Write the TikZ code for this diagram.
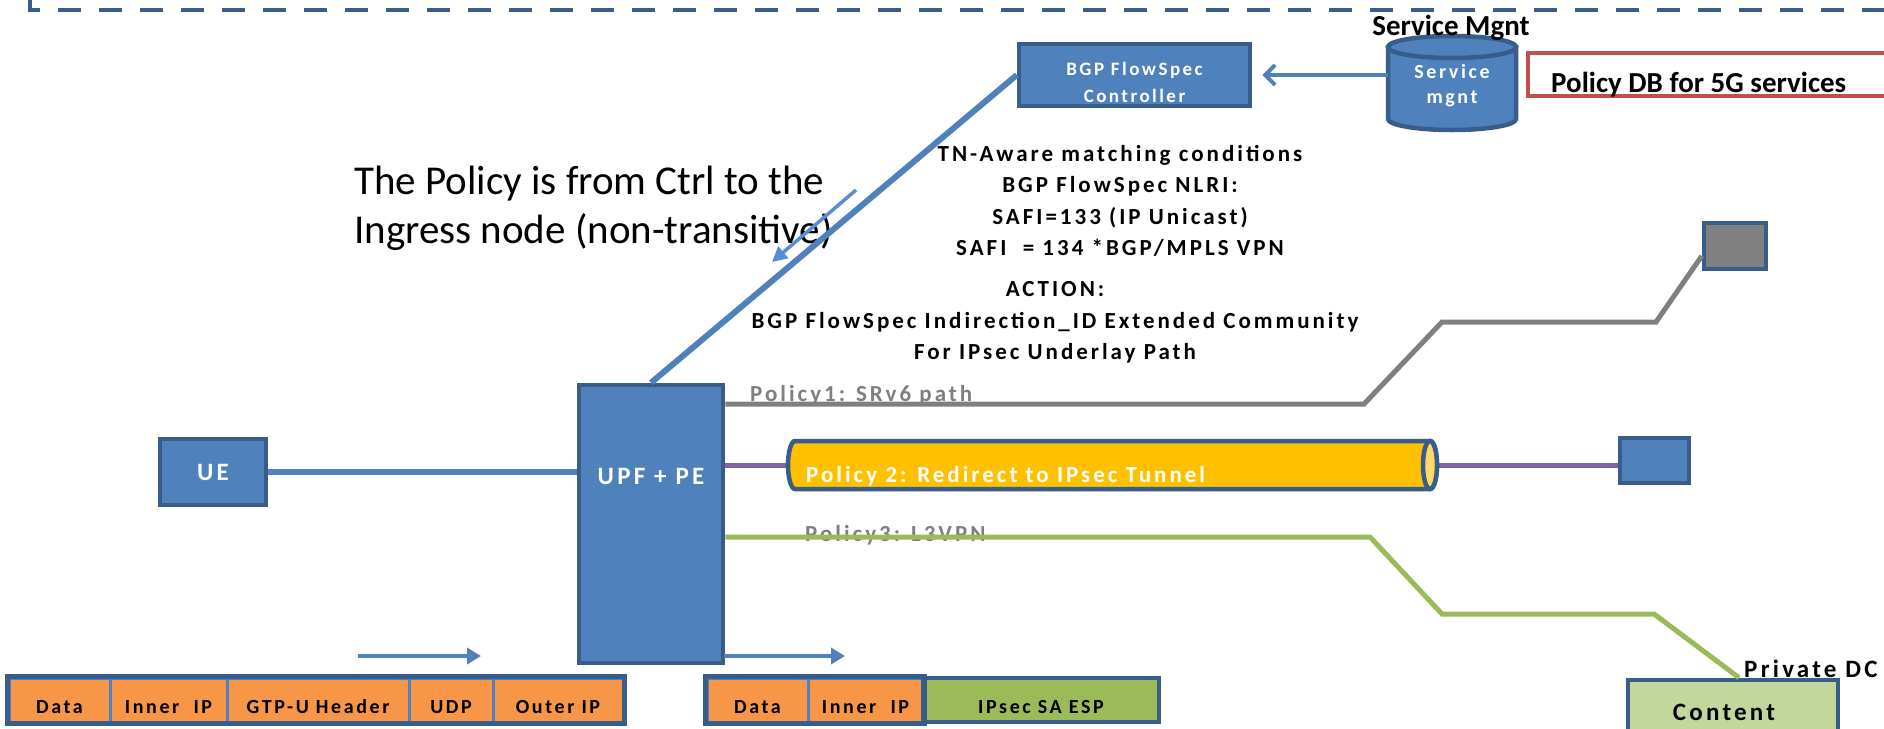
\documentclass[tikz,border=0pt]{standalone}
\usepackage{fontspec}
\setmainfont{Carlito}
\newfontfamily\spacedfont[LetterSpace=13]{Carlito}
\usetikzlibrary{arrows.meta}
\definecolor{bfill}{HTML}{4F81BD}
\definecolor{bdark}{HTML}{385D8A}
\definecolor{larrow}{HTML}{558ED5}
\definecolor{gline}{HTML}{7F7F7F}
\definecolor{gboxc}{HTML}{808080}
\definecolor{purp}{HTML}{8064A2}
\definecolor{grn}{HTML}{9BBB59}
\definecolor{org}{HTML}{F79646}
\definecolor{yel}{HTML}{FFC000}
\definecolor{yelcap}{HTML}{FFD966}
\definecolor{contc}{HTML}{C3D69B}
\definecolor{redc}{HTML}{C0504D}
\newcommand\setfs[1]{\fontsize{#1}{#1}\selectfont}
\begin{document}
\begin{tikzpicture}[x=1pt,y=-1pt,
  bluebox/.style={draw=bdark,fill=bfill,line width=4.5,inner sep=0},
  wtext/.style={text=white,font=\spacedfont\bfseries\setfs{#1},inner sep=0},
  btext/.style={text=black,font=\spacedfont\bfseries\setfs{#1},inner sep=0},
  gtext/.style={text=gline,font=\spacedfont\bfseries\setfs{#1},inner sep=0},
  cell/.style={draw=bfill,line width=3,minimum height=44,inner sep=0,text height=26pt,text depth=0pt,font=\spacedfont\bfseries\setfs{20}},
  outer/.style={draw=bdark,line width=4.5},
  pktarrow/.style={bfill,line width=4,-{Triangle[length=14pt,width=16pt]}}
]
\useasboundingbox (0,0) rectangle (1884,728);
\clip (0,0) rectangle (1884,728);

% dashed frame
\draw[bdark,line width=4,dash pattern=on 23pt off 18pt] (30,-3) -- (30,10) -- (1900,10);

% controller
\node[bluebox,minimum width=231,minimum height=62] (ctrl) at (1134.5,75) {};
\node[wtext=19,anchor=base] (ctrlt1) at (1134.5,75) {BGP FlowSpec};
\node[wtext=19,anchor=base] (ctrlt2) at (1134.5,102) {Controller};

% service mgnt cylinder
\node[inner sep=0,minimum width=128,minimum height=94] (svc) at (1452,83) {};
\path[fill=bfill,draw=bdark,line width=4.5] (1388,47) -- (1388,119)
  arc[start angle=180,end angle=0,x radius=64,y radius=11] -- (1516,47) -- cycle;
\draw[fill=bfill,draw=bdark,line width=4.5] (1452,47) ellipse[x radius=64,y radius=11];
\node[wtext=20,anchor=base] (svct1) at (1452,78) {Service};
\node[wtext=20,anchor=base] (svct2) at (1452,103) {mgnt};
\node[font=\bfseries\setfs{29},anchor=base,inner sep=0] (svcl) at (1451,35) {Service Mgnt};

% policy DB
\node[draw=redc,line width=4,minimum width=372,minimum height=43,inner sep=0] (pdb) at (1714,74.5) {};
\node[font=\bfseries\setfs{29},anchor=base west,inner sep=0] (pdbt) at (1551,92) {Policy DB for 5G services};

\draw[bfill,line width=4,-{Straight Barb[length=10pt,width=20pt]}] (svc.west |- ctrl.east) -- ([xshift=10]ctrl.east);

% policy note
\node[font=\setfs{41},anchor=base west,inner sep=0] (pol1) at (354,194) {The Policy is from Ctrl to the};
\node[font=\setfs{41},anchor=base west,inner sep=0] (pol2) at (354,243) {Ingress node (non-transitive)};

% UE and UPF
\node[bluebox,minimum width=106,minimum height=66,text=white,font=\spacedfont\bfseries\setfs{25}] (ue) at (213,472) {UE};
\node[bluebox,minimum width=144,minimum height=278] (upf) at (651,524) {};
\node[wtext=25] (upft) at (651,476) {UPF + PE};
\draw[bfill,line width=5.5] (ue.east) -- (ue.east -| upf.west);
\draw[bfill,line width=6] (upf.north) -- (ctrl.west);

\coordinate (sa1) at (856,190);
\coordinate (sa2) at (772,262);
\draw[larrow,line width=3.5,-{Triangle[length=15pt,width=15pt]}] (sa1) -- (sa2);

% TN-aware text
\node[btext=23,anchor=base] (tn1) at (1120,161.5) {TN-Aware matching conditions};
\node[btext=23,anchor=base] (tn2) at (1120,192.5) {BGP FlowSpec NLRI:};
\node[btext=23,anchor=base] (tn3) at (1120,224.5) {SAFI=133 (IP Unicast)};
\node[btext=23,anchor=base] (tn4) at (1120,255.5) {SAFI~~= 134 *BGP/MPLS VPN};
\node[btext=23,anchor=base] (tn5) at (1055,296.5) {ACTION:};
\node[btext=23,anchor=base] (tn6) at (1055,328.5) {BGP FlowSpec Indirection\_ID Extended Community};
\node[btext=23,anchor=base] (tn7) at (1055,359.5) {For IPsec Underlay Path};

% policy 1 (grey)
\node[gtext=23,anchor=base west] (p1) at (750,401) {Policy1: SRv6 path};
\node[draw=bdark,fill=gboxc,line width=4.5,minimum width=62,minimum height=46,inner sep=0] (gbox) at (1735,246) {};
\coordinate (g0) at (0,404);
\draw[gline,line width=5] (upf.east |- g0) -- (1364,404) -- (1442,322) -- (1656,322) -- ([yshift=-10]gbox.west);

% policy 2 (tunnel)
\node[inner sep=0,minimum width=649,minimum height=48] (tun) at (1112.5,465) {};
\node[bluebox,minimum width=69,minimum height=45] (bbox) at (1654.5,460.5) {};
\draw[purp,line width=5] (upf.east |- tun.west) -- (tun.west);
\draw[purp,line width=5] (tun.east) -- (tun.east -| bbox.west);
\path[fill=yel,draw=bdark,line width=4.5] (1430,441) -- (795,441)
  arc[start angle=270,end angle=90,x radius=7,y radius=24] -- (1430,489)
  arc[start angle=90,end angle=-90,x radius=7,y radius=24] -- cycle;
\draw[fill=yelcap,draw=bdark,line width=4.5] (1430,465) ellipse[x radius=7,y radius=24];
\node[wtext=23,anchor=base west] (p2) at (806,482) {Policy 2: Redirect to IPsec Tunnel};

% policy 3 (green)
\node[gtext=23,anchor=base west] (p3) at (805,541) {Policy3: L3VPN};
\node[draw=bdark,fill=contc,line width=4.5,minimum width=210,minimum height=68,inner sep=0] (content) at (1733,714) {};
\node[btext=25,anchor=base] (contentt) at (1724,720) {Content};
\node[btext=25,anchor=base west] (pdc) at (1744,677) {Private DC};
\coordinate (gr0) at (0,537);
\draw[grn,line width=5] (upf.east |- gr0) -- (1370,537) -- (1442,614) -- (1654,614) -- ([xshift=6]content.north);

% packets
\node[cell,fill=org,minimum width=101] (c1) at (59.5,700) {Data};
\node[cell,fill=org,minimum width=117] (c2) at (168.5,700) {Inner~~IP};
\node[cell,fill=org,minimum width=182] (c3) at (318,700) {GTP-U Header};
\node[cell,fill=org,minimum width=84] (c4) at (451,700) {UDP};
\node[cell,fill=org,minimum width=130] (c5) at (558,700) {Outer IP};
\draw[outer] (c1.north west) rectangle (c5.south east);

\node[cell,fill=org,minimum width=101] (d1) at (757.5,700) {Data};
\node[cell,fill=org,minimum width=115] (d2) at (865.5,700) {Inner~~IP};
\node[cell,fill=grn,draw=bdark,line width=4.5,minimum width=236] (d3) at (1041,700) {IPsec SA ESP};
\draw[outer] (d1.north west) rectangle (d2.south east);

\coordinate (a1s) at (358,656);
\coordinate (a1e) at (481,656);
\coordinate (a2s) at (724,656);
\coordinate (a2e) at (845,656);
\draw[pktarrow] (a1s) -- (a1e);
\draw[pktarrow] (a2s) -- (a2e);
\end{tikzpicture}
\end{document}
